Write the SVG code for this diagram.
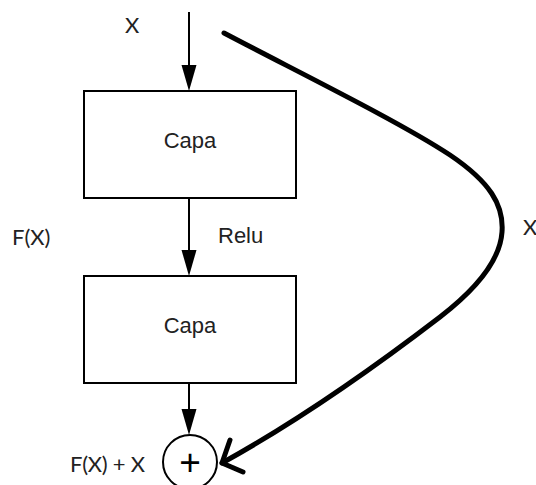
<svg xmlns="http://www.w3.org/2000/svg" width="536" height="485" viewBox="0 0 536 485">
<style>
.box{fill:#fff;stroke:#000;stroke-width:2}
.t{font-family:"Liberation Sans",Arial,sans-serif;font-size:22px;fill:#222}
.c{font-family:Lato,"Liberation Sans",sans-serif;font-size:22px;fill:#222}
.ln{stroke:#000;stroke-width:2;fill:none}
.head{fill:#000}
.thick{stroke:#000;stroke-width:5;fill:none;stroke-linecap:round;stroke-linejoin:round}
</style>
<rect width="536" height="485" fill="#fff"/>
<g id="capa1"><rect class="box" x="84" y="91" width="212" height="107"/><text class="t" x="190" y="148" text-anchor="middle">Capa</text></g>
<g id="capa2"><rect class="box" x="84" y="276" width="212" height="107"/><text class="t" x="190" y="333" text-anchor="middle">Capa</text></g>
<g id="sum"><circle cx="190" cy="462" r="27" fill="#fff" stroke="#000" stroke-width="2"/><text x="190" y="475" text-anchor="middle" style="font-family:'Liberation Sans',Arial,sans-serif;font-size:37px;fill:#000">+</text></g>
<g id="connectors">
<path class="ln" d="M189,12 V66"/>
<path class="head" d="M181.5,65 L196.5,65 L189,91 Z"/>
<path class="ln" d="M189,198 V251"/>
<path class="head" d="M181.5,250 L196.5,250 L189,276 Z"/>
<path class="ln" d="M189,383 V411"/>
<path class="head" d="M181.5,409 L196.5,409 L189,435 Z"/>
<path class="thick" d="M224,33 C300,73 400,122 450,155 C490,182 504,205 502,232 C500,262 475,290 440,317 C380,363 300,420 222,463"/>
<path class="thick" d="M230,440 L222,463 L243,472"/>
</g>
<g id="labels">
<text class="c" x="125" y="33">X</text>
<text class="c" x="12" y="245">F(X)</text>
<text class="t" x="218" y="243">Relu</text>
<text class="c" x="523" y="235">X</text>
<text class="c" x="70" y="472" textLength="75">F(X) + X</text>
</g>
</svg>
